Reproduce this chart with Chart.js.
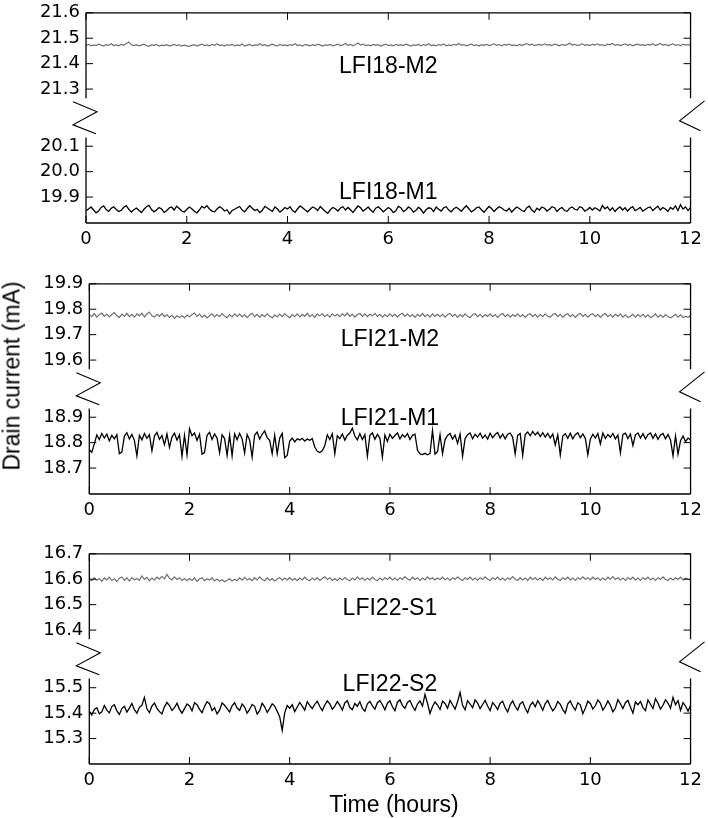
<!DOCTYPE html>
<html>
<head>
<meta charset="utf-8">
<script src="https://cdn.jsdelivr.net/npm/chart.js@4.4.0/dist/chart.umd.min.js"></script>
<style>
  body { margin: 0; background: #fff; width: 708px; height: 818px; position: relative; overflow: hidden; }
  .panel { position: absolute; left: 0; width: 708px; height: 259px; }
  .axis-title { position: absolute; font: 23px 'Liberation Sans', Arial, sans-serif; line-height: 1; white-space: nowrap; color: #000; }
  #ytitle { left: 11.5px; top: 376px; transform: translate(-50%, -50%) rotate(-90deg); }
  #xtitle { left: 394px; top: 803.8px; transform: translate(-50%, -50%); }
</style>
</head>
<body>
<div class="panel" style="top:-4px"><canvas id="p1"></canvas></div>
<div class="panel" style="top:267.3px"><canvas id="p2"></canvas></div>
<div class="panel" style="top:537.3px"><canvas id="p3"></canvas></div>
<div class="axis-title" id="ytitle">Drain current (mA)</div>
<div class="axis-title" id="xtitle">Time (hours)</div>
<script>
// ── Data (mA), one sample every 3 minutes over 12 hours ─────────────
const STEP_H = 0.05;
const X_TICKS = [0, 2, 4, 6, 8, 10, 12];

const lfi18M2 = [
  21.472,21.476,21.470,21.474,21.471,21.477,21.473,21.469,21.475,21.472,21.478,21.471,21.474,21.470,21.476,21.473,21.479,21.485,21.474,21.471,
  21.475,21.470,21.473,21.477,21.471,21.468,21.474,21.472,21.476,21.469,21.473,21.471,21.475,21.470,21.472,21.476,21.471,21.474,21.469,21.473,
  21.470,21.468,21.472,21.475,21.469,21.473,21.477,21.471,21.474,21.470,21.476,21.472,21.478,21.471,21.474,21.469,21.475,21.472,21.476,21.470,
  21.474,21.471,21.477,21.469,21.473,21.476,21.470,21.474,21.472,21.478,21.471,21.475,21.469,21.473,21.477,21.472,21.470,21.476,21.471,21.474,
  21.470,21.475,21.472,21.478,21.471,21.474,21.469,21.476,21.473,21.470,21.475,21.471,21.477,21.473,21.469,21.474,21.472,21.476,21.470,21.473,
  21.477,21.471,21.474,21.479,21.472,21.476,21.470,21.475,21.481,21.473,21.477,21.471,21.474,21.470,21.476,21.472,21.475,21.469,21.473,21.477,
  21.471,21.474,21.470,21.476,21.472,21.475,21.471,21.477,21.473,21.469,21.474,21.472,21.476,21.470,21.475,21.472,21.478,21.471,21.474,21.470,
  21.475,21.472,21.477,21.470,21.474,21.471,21.476,21.473,21.479,21.472,21.475,21.470,21.474,21.477,21.471,21.474,21.469,21.475,21.472,21.476,
  21.471,21.474,21.478,21.472,21.475,21.470,21.476,21.473,21.477,21.471,21.474,21.470,21.476,21.472,21.475,21.479,21.473,21.477,21.471,21.474,
  21.476,21.472,21.478,21.473,21.475,21.471,21.477,21.474,21.470,21.476,21.472,21.475,21.480,21.473,21.476,21.471,21.474,21.478,21.472,21.475,
  21.471,21.476,21.473,21.478,21.472,21.475,21.470,21.477,21.474,21.479,21.472,21.476,21.471,21.474,21.478,21.472,21.476,21.470,21.474,21.477,
  21.472,21.475,21.471,21.476,21.473,21.478,21.471,21.475,21.479,21.473,21.476,21.471,21.474,21.478,21.472,21.475,21.470,21.477,21.473,21.476,
  21.471
];
const lfi18M1 = [
  19.846,19.853,19.861,19.849,19.838,19.845,19.859,19.865,19.851,19.844,19.856,19.862,19.851,19.843,19.848,19.860,19.866,19.852,19.841,19.850,
  19.857,19.848,19.839,19.852,19.862,19.867,19.851,19.842,19.849,19.859,19.853,19.840,19.846,19.857,19.861,19.849,19.864,19.855,19.845,19.841,
  19.851,19.861,19.854,19.844,19.838,19.849,19.863,19.857,19.866,19.853,19.845,19.842,19.853,19.862,19.856,19.845,19.850,19.834,19.847,19.852,
  19.858,19.863,19.849,19.842,19.855,19.866,19.856,19.847,19.852,19.839,19.848,19.863,19.857,19.850,19.844,19.861,19.853,19.841,19.849,19.859,
  19.853,19.862,19.847,19.840,19.854,19.865,19.858,19.849,19.842,19.852,19.861,19.856,19.847,19.863,19.853,19.843,19.836,19.850,19.859,19.854,
  19.845,19.857,19.862,19.849,19.859,19.850,19.839,19.853,19.865,19.858,19.845,19.852,19.861,19.849,19.840,19.856,19.862,19.853,19.842,19.850,
  19.859,19.852,19.839,19.846,19.863,19.858,19.843,19.849,19.861,19.854,19.841,19.848,19.860,19.851,19.837,19.850,19.858,19.856,19.843,19.861,
  19.852,19.845,19.858,19.862,19.849,19.842,19.854,19.860,19.853,19.844,19.856,19.866,19.854,19.842,19.848,19.858,19.861,19.850,19.840,19.852,
  19.863,19.855,19.843,19.854,19.862,19.857,19.849,19.845,19.856,19.841,19.852,19.861,19.855,19.847,19.843,19.858,19.864,19.849,19.840,19.856,
  19.849,19.861,19.856,19.845,19.852,19.862,19.858,19.843,19.854,19.859,19.847,19.844,19.856,19.861,19.852,19.849,19.862,19.858,19.845,19.850,
  19.859,19.849,19.858,19.853,19.845,19.867,19.854,19.861,19.847,19.858,19.843,19.854,19.861,19.849,19.858,19.845,19.856,19.862,19.847,19.852,
  19.859,19.845,19.851,19.858,19.861,19.847,19.856,19.864,19.849,19.859,19.853,19.843,19.859,19.852,19.865,19.847,19.870,19.853,19.861,19.847,
  19.859
];
const lfi21M2 = [
  19.779,19.771,19.783,19.769,19.778,19.785,19.772,19.781,19.770,19.779,19.787,19.774,19.768,19.781,19.772,19.784,19.771,19.780,19.769,19.782,
  19.774,19.784,19.770,19.781,19.789,19.774,19.769,19.780,19.772,19.783,19.771,19.778,19.768,19.776,19.764,19.774,19.767,19.775,19.766,19.777,
  19.770,19.779,19.785,19.772,19.781,19.768,19.777,19.766,19.774,19.782,19.770,19.779,19.771,19.783,19.773,19.767,19.779,19.770,19.782,19.772,
  19.781,19.770,19.779,19.767,19.777,19.784,19.771,19.780,19.769,19.779,19.771,19.782,19.773,19.766,19.778,19.770,19.781,19.771,19.783,19.773,
  19.767,19.779,19.771,19.782,19.770,19.780,19.772,19.784,19.771,19.779,19.768,19.781,19.774,19.783,19.771,19.779,19.769,19.782,19.773,19.780,
  19.771,19.782,19.774,19.785,19.772,19.780,19.769,19.779,19.783,19.772,19.782,19.771,19.780,19.774,19.784,19.772,19.780,19.769,19.779,19.771,
  19.782,19.772,19.780,19.769,19.779,19.784,19.772,19.782,19.771,19.779,19.768,19.780,19.772,19.783,19.771,19.779,19.769,19.782,19.772,19.780,
  19.771,19.780,19.769,19.779,19.783,19.772,19.780,19.768,19.779,19.771,19.782,19.772,19.767,19.778,19.782,19.771,19.780,19.769,19.779,19.772,
  19.782,19.771,19.779,19.768,19.778,19.783,19.771,19.780,19.769,19.779,19.772,19.782,19.771,19.779,19.768,19.778,19.782,19.771,19.780,19.769,
  19.779,19.771,19.782,19.772,19.768,19.779,19.783,19.771,19.780,19.769,19.778,19.782,19.771,19.779,19.768,19.778,19.783,19.772,19.780,19.769,
  19.778,19.782,19.771,19.779,19.768,19.778,19.783,19.771,19.779,19.769,19.780,19.772,19.782,19.769,19.778,19.767,19.772,19.780,19.769,19.779,
  19.771,19.780,19.769,19.778,19.767,19.772,19.782,19.769,19.778,19.768,19.779,19.771,19.766,19.772,19.780,19.769,19.778,19.767,19.772,19.768,
  19.775
];
const lfi21M1 = [
  18.772,18.762,18.795,18.830,18.812,18.836,18.818,18.833,18.807,18.829,18.815,18.831,18.757,18.763,18.826,18.839,18.814,18.832,18.809,18.748,
  18.829,18.811,18.836,18.817,18.831,18.768,18.826,18.840,18.813,18.828,18.792,18.834,18.781,18.822,18.837,18.810,18.831,18.746,18.829,18.752,
  18.855,18.827,18.838,18.809,18.833,18.755,18.761,18.829,18.841,18.812,18.834,18.818,18.760,18.831,18.816,18.750,18.829,18.748,18.835,18.811,
  18.836,18.815,18.759,18.832,18.811,18.743,18.830,18.842,18.814,18.833,18.846,18.820,18.809,18.757,18.830,18.756,18.818,18.836,18.741,18.750,
  18.806,18.818,18.803,18.815,18.810,18.817,18.806,18.814,18.809,18.816,18.783,18.766,18.761,18.768,18.788,18.831,18.812,18.835,18.756,18.827,
  18.816,18.834,18.810,18.829,18.838,18.857,18.826,18.811,18.835,18.812,18.831,18.747,18.829,18.838,18.813,18.833,18.817,18.743,18.830,18.805,
  18.833,18.817,18.828,18.838,18.815,18.831,18.822,18.836,18.812,18.829,18.833,18.770,18.756,18.753,18.758,18.752,18.757,18.848,18.755,18.764,
  18.831,18.756,18.812,18.828,18.836,18.814,18.830,18.797,18.834,18.746,18.816,18.831,18.838,18.815,18.833,18.822,18.837,18.818,18.830,18.814,
  18.837,18.819,18.832,18.840,18.818,18.834,18.815,18.833,18.838,18.821,18.756,18.829,18.836,18.750,18.832,18.842,18.827,18.844,18.830,18.841,
  18.824,18.839,18.822,18.836,18.818,18.834,18.791,18.831,18.751,18.826,18.835,18.817,18.837,18.815,18.831,18.839,18.819,18.834,18.817,18.752,
  18.814,18.833,18.818,18.836,18.795,18.838,18.817,18.832,18.821,18.836,18.815,18.830,18.760,18.832,18.837,18.816,18.834,18.789,18.831,18.838,
  18.818,18.835,18.815,18.831,18.838,18.817,18.834,18.813,18.830,18.836,18.815,18.832,18.811,18.748,18.826,18.755,18.808,18.826,18.804,18.818,
  18.810
];
const lfi22S1 = [
  16.601,16.594,16.606,16.596,16.603,16.592,16.605,16.597,16.608,16.595,16.602,16.591,16.604,16.609,16.596,16.605,16.593,16.606,16.598,16.603,
  16.596,16.613,16.599,16.607,16.594,16.605,16.597,16.608,16.600,16.611,16.602,16.619,16.604,16.597,16.609,16.599,16.606,16.595,16.603,16.594,
  16.603,16.595,16.605,16.592,16.601,16.606,16.594,16.602,16.597,16.605,16.593,16.601,16.592,16.598,16.590,16.596,16.602,16.593,16.600,16.594,
  16.605,16.596,16.607,16.597,16.603,16.594,16.606,16.597,16.609,16.599,16.594,16.605,16.596,16.603,16.593,16.601,16.606,16.596,16.605,16.597,
  16.606,16.596,16.603,16.594,16.605,16.597,16.608,16.599,16.594,16.605,16.597,16.606,16.595,16.603,16.610,16.599,16.606,16.595,16.603,16.594,
  16.605,16.597,16.607,16.599,16.594,16.605,16.597,16.609,16.599,16.606,16.595,16.605,16.597,16.608,16.599,16.594,16.605,16.597,16.606,16.599,
  16.608,16.597,16.605,16.595,16.606,16.599,16.610,16.601,16.596,16.608,16.599,16.606,16.595,16.605,16.597,16.609,16.600,16.606,16.597,16.605,
  16.599,16.608,16.597,16.605,16.595,16.606,16.599,16.609,16.601,16.595,16.606,16.599,16.608,16.597,16.605,16.595,16.606,16.599,16.609,16.600,
  16.595,16.606,16.599,16.608,16.597,16.605,16.595,16.606,16.599,16.610,16.600,16.595,16.606,16.597,16.605,16.595,16.608,16.599,16.606,16.597,
  16.605,16.595,16.608,16.599,16.606,16.597,16.609,16.600,16.595,16.606,16.599,16.608,16.597,16.605,16.595,16.606,16.599,16.609,16.600,16.606,
  16.597,16.608,16.599,16.606,16.595,16.605,16.597,16.608,16.600,16.610,16.599,16.606,16.597,16.605,16.595,16.606,16.599,16.608,16.597,16.605,
  16.595,16.606,16.599,16.608,16.597,16.605,16.595,16.606,16.599,16.609,16.600,16.595,16.605,16.597,16.606,16.599,16.608,16.597,16.605,16.600,
  16.598
];
const lfi22S2 = [
  15.408,15.392,15.415,15.421,15.398,15.405,15.430,15.412,15.401,15.426,15.433,15.409,15.395,15.418,15.427,15.404,15.420,15.438,15.414,15.400,
  15.423,15.431,15.462,15.417,15.402,15.428,15.440,15.419,15.406,15.397,15.425,15.442,15.430,15.411,15.422,15.439,15.415,15.400,15.418,15.436,
  15.428,15.409,15.441,15.433,15.415,15.402,15.426,15.445,15.437,15.410,15.421,15.397,15.412,15.440,15.431,15.418,15.405,15.429,15.441,15.420,
  15.411,15.436,15.424,15.400,15.415,15.434,15.427,15.396,15.410,15.439,15.425,15.403,15.418,15.437,15.428,15.407,15.386,15.332,15.401,15.430,
  15.419,15.433,15.406,15.424,15.442,15.428,15.412,15.445,15.431,15.418,15.435,15.447,15.426,15.410,15.432,15.448,15.437,15.415,15.428,15.446,
  15.431,15.412,15.440,15.449,15.422,15.414,15.438,15.427,15.445,15.419,15.408,15.437,15.447,15.429,15.416,15.441,15.450,15.433,15.413,15.439,
  15.448,15.425,15.410,15.443,15.452,15.430,15.419,15.442,15.450,15.427,15.411,15.436,15.448,15.428,15.474,15.439,15.399,15.426,15.444,15.432,
  15.415,15.447,15.438,15.419,15.450,15.433,15.416,15.445,15.482,15.431,15.413,15.449,15.436,15.421,15.452,15.440,15.418,15.434,15.450,15.428,
  15.410,15.442,15.430,15.414,15.439,15.447,15.421,15.405,15.433,15.448,15.426,15.412,15.437,15.445,15.419,15.402,15.431,15.443,15.425,15.449,
  15.433,15.411,15.438,15.450,15.427,15.409,15.422,15.446,15.435,15.414,15.400,15.437,15.448,15.426,15.412,15.441,15.433,15.398,15.419,15.447,
  15.438,15.416,15.429,15.452,15.440,15.412,15.427,15.448,15.431,15.405,15.420,15.453,15.437,15.418,15.441,15.450,15.424,15.400,15.444,15.433,
  15.446,15.422,15.410,15.452,15.435,15.418,15.457,15.439,15.416,15.431,15.453,15.440,15.419,15.462,15.433,15.449,15.411,15.441,15.428,15.408,
  15.430
];

// y-axis tick values for the upper and lower segment of each panel
const p1TopTicks = [21.3, 21.4, 21.5, 21.6];
const p1BotTicks = [19.9, 20.0, 20.1];
const p2TopTicks = [19.6, 19.7, 19.8, 19.9];
const p2BotTicks = [18.7, 18.8, 18.9];
const p3TopTicks = [16.4, 16.5, 16.6, 16.7];
const p3BotTicks = [15.3, 15.4, 15.5];

// ── Styling ─────────────────────────────────────────────────────────
const GRAY = '#707070';
const LABEL_FONT = "23px 'Liberation Sans', Arial, sans-serif";
const tickFont = { family: "'DejaVu Sans', sans-serif", size: 18 };
const CANVAS_W = 708;
const TOP_PAD = 12;
const X_AXIS_H = 32;
const SEG_W = 87.5;   // stack weight of each axis segment (px)
const GAP_W = 40;     // stack weight of the break

const toPoints = vals => vals.map((v, i) => ({ x: i * STEP_H, y: v }));
const fixedTicks = vals => scale => { scale.ticks = vals.map(v => ({ value: v })); };

// frame with broken side spines, inward ticks, break marks and trace labels
const framePlugin = {
    id: 'brokenFrame',
    afterDraw(chart) {
        const { ctx, chartArea: a, scales } = chart;
        const top = scales.yTop, bot = scales.yBot, x = scales.x;
        const o = chart.options.plugins.brokenFrame;
        ctx.save();
        ctx.strokeStyle = '#000';
        ctx.lineWidth = 1.3;
        ctx.beginPath();
        ctx.moveTo(a.left, a.top); ctx.lineTo(a.right, a.top);
        ctx.moveTo(a.left, a.bottom); ctx.lineTo(a.right, a.bottom);
        for (const sx of [a.left, a.right]) {
            ctx.moveTo(sx, a.top); ctx.lineTo(sx, top.bottom);
            ctx.moveTo(sx, bot.top); ctx.lineTo(sx, a.bottom);
        }
        ctx.stroke();

        ctx.lineWidth = 1;
        ctx.beginPath();
        for (const s of [top, bot]) {
            for (const t of s.ticks) {
                const py = s.getPixelForValue(t.value);
                ctx.moveTo(a.left, py); ctx.lineTo(a.left + 7, py);
                ctx.moveTo(a.right, py); ctx.lineTo(a.right - 7, py);
            }
        }
        for (const t of x.ticks) {
            const px = x.getPixelForValue(t.value);
            ctx.moveTo(px, a.bottom); ctx.lineTo(px, a.bottom - 7);
            ctx.moveTo(px, a.top); ctx.lineTo(px, a.top + 7);
        }
        ctx.stroke();

        // break marks
        const gy = top.bottom;
        ctx.lineWidth = 1.1;
        ctx.beginPath();
        ctx.moveTo(a.left - 13, gy + 3.5);
        ctx.lineTo(a.left + 11, gy + 13.5);
        ctx.lineTo(a.left - 13, gy + 26.5);
        ctx.lineTo(a.left + 10, gy + 35.5);
        ctx.moveTo(a.right + 14, gy + 2.5);
        ctx.lineTo(a.right - 11, gy + 22.5);
        ctx.lineTo(a.right + 10, gy + 32.5);
        ctx.stroke();

        // trace labels
        ctx.fillStyle = '#000';
        ctx.font = LABEL_FONT;
        ctx.textAlign = 'center';
        ctx.textBaseline = 'alphabetic';
        const lx = x.getPixelForValue(6);
        ctx.fillText(o.topLabel[0], lx, top.getPixelForValue(o.topLabel[1]) + 8);
        ctx.fillText(o.botLabel[0], lx, bot.getPixelForValue(o.botLabel[1]) + 8);
        ctx.restore();
    }
};

function makePanel(id, p) {
    const yCommon = {
        type: 'linear',
        position: 'left',
        stack: 'segments',
        afterFit: s => { s.width = p.left; },
        grid: { display: false, drawTicks: false },
        border: { display: false },
    };
    const tickOpts = { color: '#000', font: tickFont, padding: 6, autoSkip: false, callback: v => v.toFixed(1) };

    return new Chart(document.getElementById(id), {
        type: 'line',
        data: {
            datasets: [
                { data: toPoints(p.upper), borderColor: GRAY, borderWidth: 1.2, pointRadius: 0, tension: 0, yAxisID: 'yTop' },
                { data: toPoints(p.lower), borderColor: '#000', borderWidth: 1.3, pointRadius: 0, tension: 0, yAxisID: 'yBot' },
            ]
        },
        options: {
            responsive: true,
            maintainAspectRatio: false,
            animation: false,
            events: [],
            layout: { padding: { top: TOP_PAD, right: CANVAS_W - p.right, left: 0, bottom: 0 } },
            plugins: {
                legend: { display: false },
                tooltip: { enabled: false },
                brokenFrame: { topLabel: p.topLabel, botLabel: p.botLabel },
            },
            scales: {
                x: {
                    type: 'linear', min: 0, max: 12,
                    afterBuildTicks: fixedTicks(X_TICKS),
                    afterFit: s => { s.height = X_AXIS_H; },
                    grid: { display: false, drawTicks: false },
                    border: { display: false },
                    ticks: { color: '#000', font: tickFont, padding: 6, autoSkip: false, maxRotation: 0 },
                },
                yTop: {
                    ...yCommon, weight: 3, stackWeight: SEG_W,
                    min: p.topRange[0], max: p.topRange[1],
                    afterBuildTicks: fixedTicks(p.topTicks),
                    ticks: tickOpts,
                },
                yGap: {
                    ...yCommon, weight: 2, stackWeight: GAP_W,
                    ticks: { display: false },
                },
                yBot: {
                    ...yCommon, weight: 1, stackWeight: SEG_W,
                    min: p.botRange[0], max: p.botRange[1],
                    afterBuildTicks: fixedTicks(p.botTicks),
                    ticks: tickOpts,
                },
            }
        },
        plugins: [framePlugin]
    });
}

makePanel('p1', {
    left: 86, right: 692.7,
    upper: lfi18M2, lower: lfi18M1,
    topRange: [21.2635, 21.6], botRange: [19.798, 20.1345],
    topTicks: p1TopTicks, botTicks: p1BotTicks,
    topLabel: ['LFI18-M2', 21.393], botLabel: ['LFI18-M1', 19.923],
});
makePanel('p2', {
    left: 89.3, right: 693,
    upper: lfi21M2, lower: lfi21M1,
    topRange: [19.5635, 19.9], botRange: [18.598, 18.9345],
    topTicks: p2TopTicks, botTicks: p2BotTicks,
    topLabel: ['LFI21-M2', 19.687], botLabel: ['LFI21-M1', 18.899],
});
makePanel('p3', {
    left: 89.3, right: 693,
    upper: lfi22S1, lower: lfi22S2,
    topRange: [16.3635, 16.7], botRange: [15.2, 15.5365],
    topTicks: p3TopTicks, botTicks: p3BotTicks,
    topLabel: ['LFI22-S1', 16.49], botLabel: ['LFI22-S2', 15.517],
});
</script>
</body>
</html>
